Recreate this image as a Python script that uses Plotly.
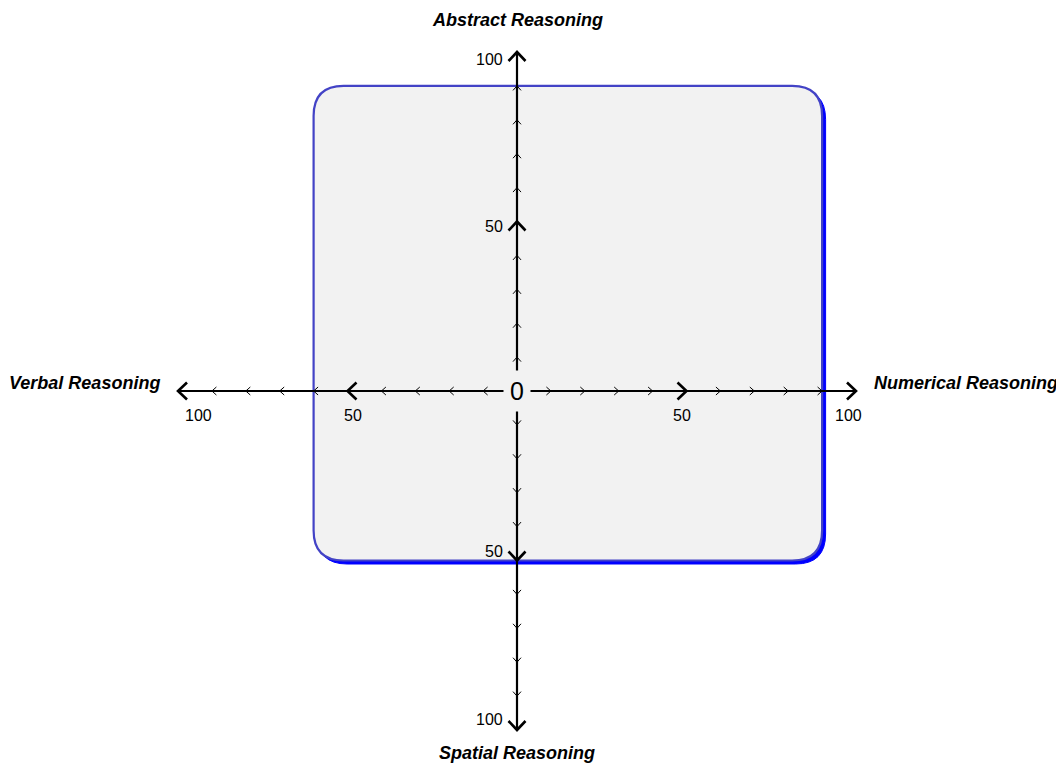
import plotly.graph_objects as go

# four reasoning axes, scored 0-100 from the centre outwards
title_top = "Abstract Reasoning"
title_right = "Numerical Reasoning"
title_bottom = "Spatial Reasoning"
title_left = "Verbal Reasoning"
tick_values = [10, 20, 30, 40, 50, 60, 70, 80, 90, 100]
labelled_ticks = [50, 100]
centre_label = "0"

# the shaded profile box: reach along each axis
score_abstract = 90
score_numerical = 90
score_spatial = 50
score_verbal = 60

# ---- layout helpers ----
W, H = 1064, 767
PAGE = 8               # the page body margin pushes the plot 8px right/down
S = 3.39               # pixels per score unit (both axes)
OX, OY = 517 - PAGE, 391 - PAGE   # pixel position of the centre
NUM_FONT = "Liberation Sans, Arial"
TITLE_FONT = "Liberation Sans, Arial"

arms = {
    "top": (0, 1),
    "bottom": (0, -1),
    "right": (1, 0),
    "left": (-1, 0),
}


def base(arm, v):
    dx, dy = arms[arm]
    return dx * v, dy * v


def chevron(xs, ys, arm, v, depth_px, half_px):
    dx, dy = arms[arm]
    tx, ty = base(arm, v)
    a, w = depth_px / S, half_px / S
    nx, ny = -dy, dx
    xs += [tx - a * dx + w * nx, tx, tx - a * dx - w * nx, None]
    ys += [ty - a * dy + w * ny, ty, ty - a * dy - w * ny, None]


small_x, small_y = [], []
big_x, big_y = [], []
line_x, line_y = [], []
for arm in arms:
    sx, sy = base(arm, 0)
    ex, ey = base(arm, tick_values[-1])
    line_x += [sx, ex, None]
    line_y += [sy, ey, None]
    for v in tick_values:
        if v in labelled_ticks:
            chevron(big_x, big_y, arm, v, 9, 8.5)
        else:
            chevron(small_x, small_y, arm, v, 4.5, 4)

fig = go.Figure()
fig.add_trace(go.Scatter(x=line_x, y=line_y, mode="lines",
                         line=dict(color="black", width=2.2), hoverinfo="skip"))
fig.add_trace(go.Scatter(x=small_x, y=small_y, mode="lines",
                         line=dict(color="black", width=1), hoverinfo="skip"))
fig.add_trace(go.Scatter(x=big_x, y=big_y, mode="lines",
                         line=dict(color="black", width=2.6), hoverinfo="skip"))


def rounded_box(x0, y0, x1, y1, r):
    return (f"M {x0 + r},{y1} L {x1 - r},{y1} Q {x1},{y1} {x1},{y1 - r} "
            f"L {x1},{y0 + r} Q {x1},{y0} {x1 - r},{y0} L {x0 + r},{y0} "
            f"Q {x0},{y0} {x0},{y0 + r} L {x0},{y1 - r} Q {x0},{y1} {x0 + r},{y1} Z")


bx0, bx1 = -score_verbal, score_numerical
by0, by1 = -score_spatial, score_abstract
radius = 30 / S
off = 3.5 / S
fig.add_shape(type="path", layer="below",
              path=rounded_box(bx0 + off, by0 - off, bx1 + off, by1 - off, radius),
              fillcolor="#0000ff", line=dict(color="#0000ff", width=1))
fig.add_shape(type="path", layer="below",
              path=rounded_box(bx0, by0, bx1, by1, radius),
              fillcolor="#f2f2f2", line=dict(color="#4343c6", width=2.2))

ann = []
numfont = dict(size=16, family=NUM_FONT, color="black")
# tick labels on the vertical axis (left of the line)
for arm, v, ys in [("top", 100, -7), ("top", 50, -5), ("bottom", 50, 9), ("bottom", 100, 11)]:
    x, y = base(arm, v)
    ann.append(dict(x=x, y=y, text=str(v), xanchor="right", yanchor="middle",
                    xshift=-12, yshift=ys, font=numfont))
# tick labels on the horizontal axis (below the line)
for arm, v, xs in [("left", 100, 20), ("left", 50, 5), ("right", 50, -5), ("right", 100, -8)]:
    x, y = base(arm, v)
    ann.append(dict(x=x, y=y, text=str(v), xanchor="center", yanchor="middle",
                    xshift=xs, yshift=-24, font=numfont))

ann.append(dict(x=0, y=0, text=centre_label, bgcolor="#f2f2f2", borderpad=6,
                xanchor="center", yanchor="middle",
                font=dict(size=25, family=NUM_FONT, color="black")))

tfont = dict(size=18, family=TITLE_FONT, color="black")
x, y = base("top", 100)
ann.append(dict(x=x, y=y, text=f"<b><i>{title_top}</i></b>", yshift=32, font=tfont))
x, y = base("bottom", 100)
ann.append(dict(x=x, y=y, text=f"<b><i>{title_bottom}</i></b>", yshift=-23, font=tfont))
x, y = base("left", 100)
ann.append(dict(x=x, y=y, text=f"<b><i>{title_left}</i></b>", xanchor="right",
                xshift=-16, yshift=8, font=tfont))
x, y = base("right", 100)
ann.append(dict(x=x, y=y, text=f"<b><i>{title_right}</i></b>", xanchor="left",
                xshift=16, yshift=8, font=tfont))

for a in ann:
    a.update(showarrow=False, xref="x", yref="y")

fig.update_layout(
    width=W, height=H,
    margin=dict(l=0, r=0, t=0, b=0),
    paper_bgcolor="white", plot_bgcolor="white",
    showlegend=False,
    annotations=ann,
    xaxis=dict(range=[-OX / S, (W - OX) / S], visible=False, fixedrange=True),
    yaxis=dict(range=[-(H - OY) / S, OY / S], visible=False, fixedrange=True),
)

fig.write_html("out.html")
